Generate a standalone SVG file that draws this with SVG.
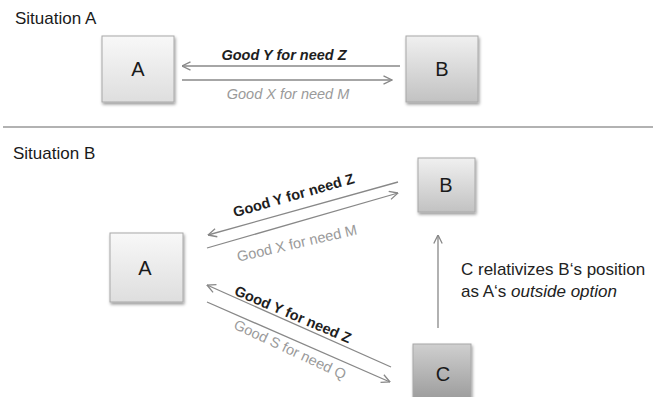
<svg xmlns="http://www.w3.org/2000/svg" width="653" height="397" viewBox="0 0 653 397">
<defs>
<style>
.title{font-family:"Liberation Sans",Arial,sans-serif;font-size:17px;fill:#1a1a1a}
.box{stroke:#a8a8a8;stroke-width:1}
.letter{font-family:"Liberation Sans",Arial,sans-serif;font-size:20px;fill:#1a1a1a;text-anchor:middle}
.conn{stroke:#888;stroke-width:1.3;fill:none;marker-end:url(#arr)}
.lblDark{font-family:"Liberation Sans",Arial,sans-serif;font-size:14.5px;font-weight:bold;fill:#1e1e1e;text-anchor:middle}
.lblGray{font-family:"Liberation Sans",Arial,sans-serif;font-size:14.5px;fill:#9a9a9a;text-anchor:middle}
.note{font-family:"Liberation Sans",Arial,sans-serif;font-size:17px;fill:#222}
</style>
<linearGradient id="gLight" x1="0" y1="0" x2="0" y2="1">
<stop offset="0" stop-color="#f8f8f8"/><stop offset="1" stop-color="#dedede"/>
</linearGradient>
<linearGradient id="gMid" x1="0" y1="0" x2="0" y2="1">
<stop offset="0" stop-color="#f0f0f0"/><stop offset="1" stop-color="#c2c2c2"/>
</linearGradient>
<linearGradient id="gDark" x1="0" y1="0" x2="0" y2="1">
<stop offset="0" stop-color="#cfcfcf"/><stop offset="1" stop-color="#9c9c9c"/>
</linearGradient>
<filter id="sh" x="-20%" y="-20%" width="140%" height="140%">
<feDropShadow dx="1" dy="2" stdDeviation="1.5" flood-color="#000" flood-opacity="0.4"/>
</filter>
<marker id="arr" viewBox="0 0 10 10" refX="9.5" refY="5" markerWidth="10" markerHeight="10" markerUnits="userSpaceOnUse" orient="auto">
<path d="M1,0.8 L9.5,5 L1,9.2" fill="none" stroke="#888" stroke-width="1.3"/>
</marker>
</defs>
<rect width="653" height="397" fill="#fff"/>

<text class="title" x="15" y="24">Situation A</text>
<line x1="3" y1="127" x2="653" y2="127" stroke="#999" stroke-width="1.5"/>
<text class="title" x="13" y="159">Situation B</text>

<g id="nodeA1">
<rect class="box" x="102" y="36" width="72" height="66" fill="url(#gLight)" filter="url(#sh)"/>
<text class="letter" x="138" y="76">A</text>
</g>
<g id="nodeB1">
<rect class="box" x="406" y="36" width="72" height="66" fill="url(#gMid)" filter="url(#sh)"/>
<text class="letter" x="442" y="76">B</text>
</g>
<g id="nodeA2">
<rect class="box" x="110" y="233" width="73" height="69" fill="url(#gLight)" filter="url(#sh)"/>
<text class="letter" x="145" y="275">A</text>
</g>
<g id="nodeB2">
<rect class="box" x="418" y="158" width="57" height="54" fill="url(#gMid)" filter="url(#sh)"/>
<text class="letter" x="446" y="192">B</text>
</g>
<g id="nodeC">
<rect class="box" x="413" y="344" width="58" height="56" fill="url(#gDark)" filter="url(#sh)"/>
<text class="letter" x="443" y="381">C</text>
</g>

<g id="connectors">
<line class="conn" x1="400" y1="66" x2="182" y2="66"/>
<line class="conn" x1="182" y1="80" x2="392" y2="80"/>
<line class="conn" x1="398" y1="182" x2="208" y2="235"/>
<line class="conn" x1="207" y1="248" x2="398" y2="193"/>
<line class="conn" x1="391" y1="367" x2="207" y2="285"/>
<line class="conn" x1="207" y1="302" x2="390" y2="382"/>
<line class="conn" x1="438" y1="328" x2="438" y2="235"/>

<text class="lblDark" x="284" y="60" font-style="italic" font-size="13.5px">Good Y for need Z</text>
<text class="lblGray" x="288" y="99" font-style="italic" font-size="15px">Good X for need M</text>
<text class="lblDark" transform="translate(295,200) rotate(-16)">Good Y for need Z</text>
<text class="lblGray" transform="translate(298,248) rotate(-13)">Good X for need M</text>
<text class="lblDark" transform="translate(291,319) rotate(23)">Good Y for need Z</text>
<text class="lblGray" transform="translate(288,354) rotate(25)">Good S for need Q</text>
</g>

<text class="note" x="461" y="275">C relativizes B‘s position</text>
<text class="note" x="461" y="297">as A‘s <tspan font-style="italic">outside option</tspan></text>
</svg>
